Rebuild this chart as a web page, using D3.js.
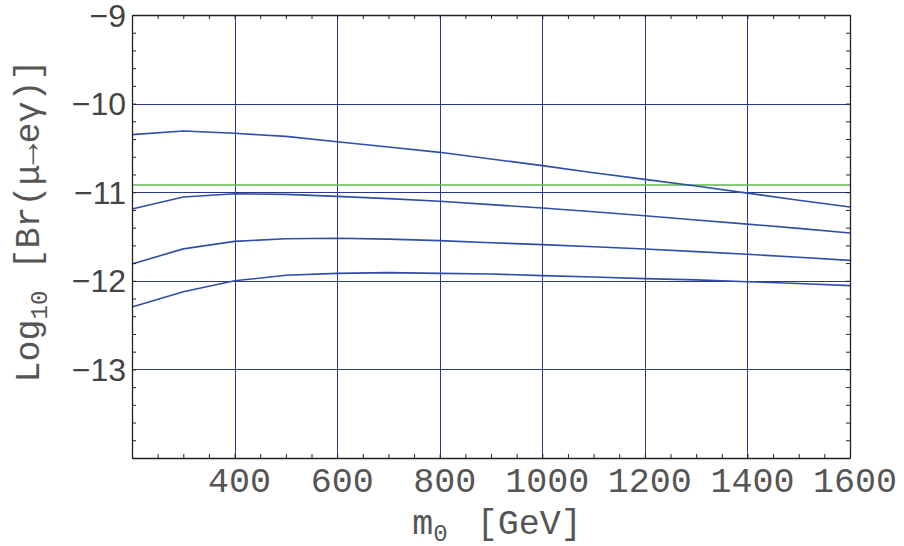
<!DOCTYPE html>
<html>
<head>
<meta charset="utf-8">
<script src="https://cdn.jsdelivr.net/npm/d3@7"></script>
<style>
  body { margin: 0; background: #fff; }
  .mono { font-family: "Liberation Mono", "Courier New", monospace; fill: #555; }
  .sans { font-family: "Liberation Sans", Arial, sans-serif; fill: #444; }
</style>
</head>
<body>
<div id="chart"></div>
<script>
// m0 values (GeV)
var m0 = [200, 300, 400, 500, 600, 700, 800, 900, 1000, 1100, 1200, 1300, 1400, 1500, 1600];

// log10 Br(mu -> e gamma), four curves top to bottom
var curveA = [-10.35, -10.31, -10.335, -10.37, -10.43, -10.49, -10.55, -10.625, -10.70, -10.78, -10.855, -10.93, -11.01, -11.09, -11.167];
var curveB = [-11.19, -11.055, -11.017, -11.024, -11.047, -11.073, -11.103, -11.14, -11.178, -11.22, -11.265, -11.314, -11.36, -11.408, -11.46];
var curveC = [-11.81, -11.64, -11.555, -11.525, -11.52, -11.53, -11.547, -11.57, -11.592, -11.615, -11.641, -11.671, -11.70, -11.735, -11.77];
var curveD = [-12.296, -12.123, -12.0, -11.938, -11.916, -11.908, -11.916, -11.923, -11.942, -11.957, -11.976, -11.99, -12.01, -12.03, -12.055];
var curves = [curveA, curveB, curveC, curveD];

// experimental bound (MEGA, 1.2e-11)
var bound = -10.92;

var xTicks = [400, 600, 800, 1000, 1200, 1400, 1600];
var yTicks = [-9, -10, -11, -12, -13];
var xGrid = [400, 600, 800, 1000, 1200, 1400];
var yGrid = [-10, -11, -12, -13];

var W = 904, H = 546;
var pLeft = 132, pRight = 850, pTop = 15, pBottom = 458;

var svg = d3.select("#chart").append("svg")
    .attr("width", W)
    .attr("height", H);

var xScale = d3.scaleLinear().domain([200, 1600]).range([pLeft, pRight]);
var yScale = d3.scaleLinear().domain([-14, -9]).range([pBottom, pTop]);

// snap 1px lines to pixel centres so they stay crisp
function crisp(v) { return Math.round(v) + 0.5; }

// grid lines
var gridColor = "#2d3886";
var grid = svg.append("g").attr("class", "grid");
grid.selectAll("line.vgrid")
    .data(xGrid)
    .join("line")
    .attr("class", "vgrid")
    .attr("x1", function (d) { return crisp(xScale(d)); })
    .attr("x2", function (d) { return crisp(xScale(d)); })
    .attr("y1", pTop).attr("y2", pBottom)
    .attr("stroke", gridColor).attr("stroke-width", 1);

grid.selectAll("line.hgrid")
    .data(yGrid)
    .join("line")
    .attr("class", "hgrid")
    .attr("x1", pLeft).attr("x2", pRight)
    .attr("y1", function (d) { return crisp(yScale(d)); })
    .attr("y2", function (d) { return crisp(yScale(d)); })
    .attr("stroke", gridColor).attr("stroke-width", 1);

// bound line
svg.append("line")
    .attr("x1", pLeft).attr("x2", pRight)
    .attr("y1", yScale(bound)).attr("y2", yScale(bound))
    .attr("stroke", "#5cb84a").attr("stroke-width", 1.5);

// curves
var lineGen = d3.line()
    .x(function (d, i) { return xScale(m0[i]); })
    .y(function (d) { return yScale(d); });

svg.append("g").selectAll("path")
    .data(curves)
    .join("path")
    .attr("d", lineGen)
    .attr("fill", "none")
    .attr("stroke", "#2f4ea6")
    .attr("stroke-width", 1.6);

// frame with inward ticks on all four sides
var xMinor = d3.range(200, 1601, 50);
var yMinor = d3.range(0, 26).map(function (i) { return -14 + i * 0.2; });
var axisB = d3.axisBottom(xScale).tickValues(xMinor).tickFormat("").tickSizeInner(-4).tickSizeOuter(0);
var axisT = d3.axisTop(xScale).tickValues(xMinor).tickFormat("").tickSizeInner(-4).tickSizeOuter(0);
var axisL = d3.axisLeft(yScale).tickValues(yMinor).tickFormat("").tickSizeInner(-4).tickSizeOuter(0);
var axisR = d3.axisRight(yScale).tickValues(yMinor).tickFormat("").tickSizeInner(-4).tickSizeOuter(0);

[[axisB, "translate(0," + pBottom + ")"],
 [axisT, "translate(0," + pTop + ")"],
 [axisL, "translate(" + pLeft + ",0)"],
 [axisR, "translate(" + pRight + ",0)"]].forEach(function (a) {
    var g = svg.append("g").attr("transform", a[1]).call(a[0]);
    g.select(".domain").attr("stroke", "#222").attr("stroke-width", 1.3);
    g.selectAll(".tick line").attr("stroke", "#222").attr("stroke-width", 1);
});

// tick labels
svg.append("g").selectAll("text")
    .data(xTicks)
    .join("text")
    .attr("class", "mono")
    .attr("x", function (d) { return xScale(d) + 5; })
    .attr("y", 492)
    .attr("text-anchor", "middle")
    .style("font-size", "35px")
    .text(function (d) { return d; });

svg.append("g").selectAll("text")
    .data(yTicks)
    .join("text")
    .attr("class", "sans")
    .attr("x", 126)
    .attr("y", function (d) { return yScale(d); })
    .attr("dy", "0.36em")
    .attr("text-anchor", "end")
    .style("font-size", "32px")
    .text(function (d) { return "\u2212" + Math.abs(d); });

// axis titles
var xt = svg.append("text")
    .attr("class", "mono")
    .attr("x", 497).attr("y", 534)
    .attr("text-anchor", "middle")
    .style("font-size", "35px")
    .style("white-space", "pre");
xt.append("tspan").text("m");
xt.append("tspan").attr("dy", 7).style("font-size", "24px").text("0");
xt.append("tspan").attr("dy", -7).attr("dx", 8).text(" [GeV]");

var yt = svg.append("text")
    .attr("class", "mono")
    .attr("transform", "translate(39,221) rotate(-90)")
    .attr("text-anchor", "middle")
    .style("font-size", "35px")
    .style("white-space", "pre");
yt.append("tspan").text("Log");
yt.append("tspan").attr("dy", 8).style("font-size", "24px").text("10");
yt.append("tspan").attr("dy", -8).text(" [Br(\u03bc\u2192e\u03b3)]");
</script>
</body>
</html>
